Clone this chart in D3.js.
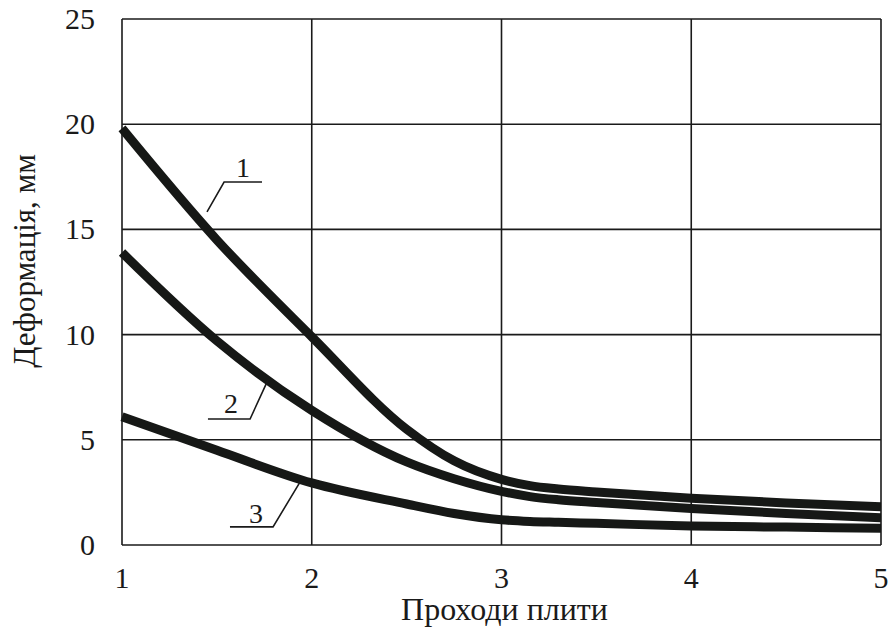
<!DOCTYPE html>
<html><head><meta charset="utf-8">
<script src="https://cdn.jsdelivr.net/npm/d3@7"></script>
<style>body{margin:0;background:#fff}svg{display:block}</style>
</head><body><svg id="c" width="892" height="630"></svg>
<script>
const passes = [1, 1.5, 2, 2.5, 2.75, 3, 3.15, 3.3, 3.5, 4, 4.5, 5];
const curve1 = [19.8, 14.5, 9.9, 5.5, 4.0, 3.12, 2.82, 2.66, 2.52, 2.22, 2.0, 1.82];
const curve2 = [13.9, 9.7, 6.4, 3.95, 3.15, 2.55, 2.3, 2.15, 2.02, 1.74, 1.5, 1.3];
const curve3 = [6.1, 4.5, 2.95, 1.95, 1.5, 1.2, 1.12, 1.08, 1.03, 0.9, 0.85, 0.8];
const xTicks = [1, 2, 3, 4, 5];
const yTicks = [0, 5, 10, 15, 20, 25];
const labels = ["1", "2", "3"];
// leader lines in data coords: text pos, underline start/end, pointer end
const labelText = [[1.638, 17.49], [1.574, 6.27], [1.706, 1.05]];
const leaders = [
  [[1.738, 17.25], [1.538, 17.25], [1.448, 15.83]],
  [[1.453, 5.99], [1.675, 5.99], [1.769, 7.84]],
  [[1.569, 0.86], [1.796, 0.86], [1.938, 2.99]]
];
const xTitle = "Проходи плити";
const yTitle = "Деформація, мм";

const svg = d3.select("#c");
const x = d3.scaleLinear().domain([1, 5]).range([122, 881]);
const y = d3.scaleLinear().domain([0, 25]).range([545, 19]);
const font = "'Liberation Serif','Times New Roman',serif";
const ink = "#1a1a1a";

// grid
svg.append("g").selectAll("line").data(xTicks).join("line")
  .attr("x1", d => x(d)).attr("x2", d => x(d)).attr("y1", y(0)).attr("y2", y(25))
  .attr("stroke", ink).attr("stroke-width", 1.6);
svg.append("g").selectAll("line").data(yTicks).join("line")
  .attr("y1", d => y(d)).attr("y2", d => y(d)).attr("x1", x(1)).attr("x2", x(5))
  .attr("stroke", ink).attr("stroke-width", 1.6);

// tick labels
svg.append("g").selectAll("text").data(yTicks).join("text")
  .attr("x", 95).attr("y", d => y(d) + 10).attr("text-anchor", "end")
  .attr("font-family", font).attr("font-size", 30).attr("fill", ink).text(d => d);
svg.append("g").selectAll("text").data(xTicks).join("text")
  .attr("x", d => x(d)).attr("y", 588).attr("text-anchor", "middle")
  .attr("font-family", font).attr("font-size", 30).attr("fill", ink).text(d => d);

// axis titles
svg.append("text").attr("x", (x(1) + x(5)) / 2 + 3).attr("y", 620).attr("text-anchor", "middle")
  .attr("font-family", font).attr("font-size", 32).attr("fill", ink).text(xTitle);
svg.append("text").attr("transform", "translate(35,261) rotate(-90)").attr("text-anchor", "middle")
  .attr("font-family", font).attr("font-size", 31).attr("fill", ink).text(yTitle);

// curves
const line = d3.line().x(d => x(d[0])).y(d => y(d[1])).curve(d3.curveMonotoneX);
svg.append("clipPath").attr("id", "pc").append("rect")
  .attr("x", x(1) - 6).attr("y", y(25)).attr("width", x(5) - x(1) + 6).attr("height", y(0) - y(25));
[curve1, curve2, curve3].forEach(vals => {
  svg.append("path").datum(passes.map((p, i) => [p, vals[i]]))
    .attr("d", line).attr("fill", "none").attr("stroke", "#161816")
    .attr("stroke-width", 9).attr("stroke-linecap", "butt")
    .attr("clip-path", "url(#pc)");
});

// leaders
const lline = d3.line().x(d => x(d[0])).y(d => y(d[1]));
svg.append("g").selectAll("path").data(leaders).join("path")
  .attr("d", lline).attr("fill", "none").attr("stroke", ink).attr("stroke-width", 1.6);
svg.append("g").selectAll("text").data(labels).join("text")
  .attr("x", (d, i) => x(labelText[i][0])).attr("y", (d, i) => y(labelText[i][1]))
  .attr("text-anchor", "middle").attr("font-family", font).attr("font-size", 28)
  .attr("fill", ink).text(d => d);
</script></body></html>
